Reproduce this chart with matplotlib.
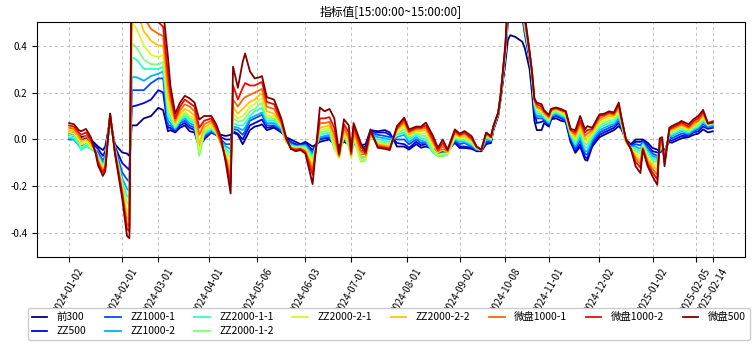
import numpy as np
import matplotlib.pyplot as plt

plt.rcParams['font.family'] = ['Noto Sans CJK SC', 'DejaVu Sans']
plt.rcParams['axes.unicode_minus'] = False

# trading-day index (0 = 2024-01-02)
days = [0, 2, 4, 5, 7, 9, 11, 12, 14, 15,
        17, 19, 22, 24, 25, 26, 28, 31, 34, 37,
        39, 41, 42, 44, 46, 48, 50, 52, 54, 56,
        59, 61, 63, 65, 67, 68, 70, 72, 73, 75,
        77, 79, 80, 82, 85, 88, 90, 92, 94, 96,
        98, 101, 104, 106, 108, 110, 112, 114, 116, 117,
        118, 121, 123, 125, 128, 131, 133, 136, 139, 141,
        144, 146, 148, 151, 153, 155, 157, 160, 162, 164,
        167, 169, 171, 173, 175, 176, 178, 179, 181, 182,
        183, 185, 186, 188, 189, 191, 192, 193, 194, 196,
        197, 199, 200, 202, 204, 206, 208, 210, 212, 214,
        215, 217, 220, 222, 224, 226, 228, 229, 231, 233,
        235, 237, 238, 240, 242, 244, 245, 246, 247, 249,
        250, 253, 254, 257, 259, 261, 263, 265, 267]

hs300 = [0.03, 0.025, 0.02, 0.01, 0.015, 0.0, -0.02, -0.03, -0.045, -0.03,
         0.08, -0.02, -0.055, -0.06, -0.07, 0.06, 0.06, 0.09, 0.1, 0.135,
         0.125, 0.035, 0.04, 0.03, 0.05, 0.06, 0.035, 0.03, -0.03, 0.0,
         0.03, 0.02, 0.02, 0.015, 0.02, 0.03, 0.02, -0.02, 0.0, 0.04,
         0.055, 0.06, 0.065, 0.04, 0.05, 0.03, 0.01, 0.0, -0.01, -0.02,
         -0.01, -0.03, -0.01, -0.005, 0.0, -0.02, -0.025, -0.01, -0.02, -0.03,
         -0.02, -0.025, -0.02, 0.04, 0.035, 0.04, 0.03, -0.03, -0.03, -0.043,
         -0.02, -0.035, -0.03, -0.04, -0.05, -0.045, -0.045, -0.014, -0.036, -0.036,
         -0.04, -0.05, -0.05, -0.02, -0.015, 0.04, 0.1, 0.17, 0.33, 0.423,
         0.444, 0.437, 0.43, 0.416, 0.39, 0.3, 0.2, 0.08, 0.04, 0.04,
         0.07, 0.055, 0.086, 0.09, 0.08, 0.075, -0.01, -0.057, -0.03, -0.086,
         -0.09, -0.03, 0.01, 0.02, 0.03, 0.04, 0.057, 0.045, 0.0, -0.02,
         0.0, 0.0, 0.0, -0.014, -0.036, -0.043, -0.05, -0.045, -0.045, -0.01,
         -0.014, 0.0, 0.005, 0.01, 0.02, 0.025, 0.043, 0.03, 0.035]

zz500 = [0.02, 0.015, 0.005, 0.0, 0.005, -0.01, -0.03, -0.04, -0.07, -0.05,
         0.09, -0.03, -0.1, -0.12, -0.13, 0.14, 0.145, 0.155, 0.17, 0.21,
         0.2, 0.05, 0.05, 0.035, 0.06, 0.07, 0.05, 0.04, -0.035, 0.005,
         0.03, 0.02, 0.01, 0.0, 0.0, 0.035, 0.025, 0.0, 0.02, 0.06,
         0.07, 0.08, 0.085, 0.05, 0.055, 0.035, 0.005, -0.01, -0.02, -0.025,
         -0.015, -0.045, 0.0, 0.005, 0.005, -0.02, -0.035, 0.0, -0.02, -0.04,
         -0.015, -0.035, -0.03, 0.035, 0.03, 0.03, 0.02, -0.015, -0.02, -0.035,
         -0.01, -0.025, -0.02, -0.045, -0.055, -0.05, -0.05, -0.01, -0.03, -0.03,
         -0.035, -0.045, -0.05, -0.015, -0.01, 0.045, 0.105, 0.175, 0.35, 0.5,
         0.56, 0.56, 0.56, 0.52, 0.45, 0.34, 0.24, 0.12, 0.07, 0.075,
         0.08, 0.06, 0.09, 0.1, 0.09, 0.08, 0.0, -0.05, -0.02, -0.075,
         -0.08, -0.02, 0.02, 0.03, 0.04, 0.05, 0.07, 0.055, -0.005, -0.025,
         -0.01, -0.01, -0.005, -0.025, -0.05, -0.055, -0.055, -0.05, -0.05, 0.0,
         -0.005, 0.01, 0.015, 0.015, 0.03, 0.035, 0.055, 0.045, 0.05]

zz1000_1 = [0.0, 0.0, -0.02, -0.03, -0.02, -0.03, -0.045, -0.055, -0.09, -0.07,
            0.095, -0.035, -0.14, -0.17, -0.18, 0.21, 0.21, 0.21, 0.24, 0.26,
            0.26, 0.06, 0.06, 0.04, 0.07, 0.08, 0.06, 0.05, -0.04, 0.01,
            0.035, 0.02, 0.0, -0.02, -0.02, 0.045, 0.04, 0.02, 0.035, 0.08,
            0.09, 0.1, 0.105, 0.06, 0.06, 0.04, 0.0, -0.015, -0.025, -0.025,
            -0.02, -0.055, 0.005, 0.01, 0.01, -0.025, -0.045, 0.005, -0.02, -0.05,
            -0.01, -0.05, -0.045, 0.03, 0.02, 0.015, 0.01, 0.0, 0.0, -0.02,
            0.0, -0.015, -0.015, -0.05, -0.06, -0.055, -0.055, -0.005, -0.02, -0.015,
            -0.03, -0.045, -0.045, -0.01, -0.005, 0.045, 0.105, 0.18, 0.36, 0.52,
            0.58, 0.58, 0.58, 0.54, 0.46, 0.35, 0.25, 0.13, 0.09, 0.09,
            0.085, 0.065, 0.095, 0.105, 0.095, 0.085, 0.01, -0.04, -0.005, -0.06,
            -0.065, -0.01, 0.03, 0.04, 0.05, 0.06, 0.08, 0.06, -0.005, -0.03,
            -0.02, -0.025, -0.01, -0.035, -0.06, -0.07, -0.05, -0.045, -0.055, 0.01,
            0.005, 0.02, 0.025, 0.02, 0.035, 0.045, 0.065, 0.05, 0.055]

zz1000_2 = [0.005, 0.0, -0.025, -0.04, -0.025, -0.035, -0.05, -0.065, -0.1, -0.08,
            0.1, -0.04, -0.165, -0.21, -0.22, 0.265, 0.265, 0.25, 0.27, 0.28,
            0.29, 0.08, 0.07, 0.045, 0.075, 0.09, 0.07, 0.06, -0.05, 0.02,
            0.04, 0.025, -0.005, -0.03, -0.04, 0.055, 0.05, 0.04, 0.05, 0.09,
            0.1, 0.11, 0.115, 0.07, 0.07, 0.045, -0.005, -0.02, -0.03, -0.03,
            -0.025, -0.065, 0.01, 0.015, 0.02, -0.03, -0.055, 0.01, -0.025, -0.06,
            -0.005, -0.065, -0.06, 0.025, 0.01, 0.005, 0.0, 0.01, 0.02, -0.01,
            0.01, -0.005, -0.01, -0.055, -0.065, -0.06, -0.06, 0.0, -0.01, -0.01,
            -0.025, -0.04, -0.045, 0.0, -0.005, 0.05, 0.11, 0.18, 0.37, 0.53,
            0.6, 0.6, 0.6, 0.56, 0.47, 0.355, 0.26, 0.14, 0.1, 0.1,
            0.09, 0.07, 0.1, 0.11, 0.1, 0.09, 0.015, -0.03, 0.01, -0.05,
            -0.05, 0.0, 0.04, 0.05, 0.06, 0.065, 0.09, 0.065, -0.01, -0.03,
            -0.03, -0.04, -0.015, -0.045, -0.07, -0.08, -0.045, -0.04, -0.06, 0.015,
            0.015, 0.03, 0.035, 0.025, 0.04, 0.05, 0.075, 0.055, 0.06]

zz2000_1_1 = [0.01, 0.005, -0.02, -0.045, -0.03, -0.04, -0.055, -0.07, -0.11, -0.09,
              0.1, -0.04, -0.18, -0.24, -0.25, 0.35, 0.34, 0.3, 0.3, 0.3,
              0.31, 0.1, 0.085, 0.05, 0.08, 0.1, 0.08, 0.07, -0.06, 0.025,
              0.045, 0.025, -0.01, -0.04, -0.06, 0.07, 0.06, 0.06, 0.07, 0.1,
              0.12, 0.13, 0.135, 0.08, 0.08, 0.05, -0.01, -0.025, -0.03, -0.03,
              -0.03, -0.075, 0.02, 0.025, 0.03, -0.035, -0.065, 0.015, -0.03, -0.07,
              0.0, -0.08, -0.075, 0.02, 0.0, -0.005, -0.01, 0.02, 0.03, 0.0,
              0.02, 0.005, 0.0, -0.057, -0.07, -0.065, -0.06, 0.005, -0.005, -0.005,
              -0.02, -0.04, -0.045, 0.01, 0.0, 0.05, 0.11, 0.182, 0.375, 0.54,
              0.61, 0.61, 0.61, 0.57, 0.48, 0.36, 0.265, 0.15, 0.11, 0.11,
              0.095, 0.075, 0.105, 0.115, 0.105, 0.095, 0.02, -0.02, 0.025, -0.035,
              -0.035, 0.01, 0.05, 0.06, 0.07, 0.075, 0.1, 0.07, -0.01, -0.035,
              -0.04, -0.05, -0.02, -0.055, -0.08, -0.09, -0.04, -0.035, -0.07, 0.02,
              0.02, 0.035, 0.04, 0.03, 0.045, 0.055, 0.08, 0.06, 0.065]

zz2000_1_2 = [0.02, 0.015, -0.01, -0.035, -0.02, -0.035, -0.05, -0.075, -0.115, -0.095,
              0.1, -0.045, -0.19, -0.27, -0.28, 0.41, 0.39, 0.34, 0.32, 0.32,
              0.33, 0.12, 0.1, 0.055, 0.09, 0.11, 0.09, 0.08, -0.07, 0.03,
              0.05, 0.03, -0.015, -0.05, -0.08, 0.09, 0.075, 0.08, 0.09, 0.12,
              0.13, 0.15, 0.155, 0.09, 0.09, 0.055, -0.01, -0.03, -0.035, -0.03,
              -0.035, -0.085, 0.03, 0.035, 0.04, -0.04, -0.075, 0.02, -0.03, -0.08,
              0.01, -0.095, -0.09, 0.015, -0.01, -0.015, -0.02, 0.025, 0.045, 0.01,
              0.03, 0.015, 0.015, -0.05, -0.072, -0.072, -0.065, 0.01, 0.0, 0.0,
              -0.015, -0.04, -0.045, 0.015, 0.0, 0.05, 0.11, 0.184, 0.38, 0.55,
              0.62, 0.62, 0.62, 0.58, 0.49, 0.36, 0.27, 0.155, 0.12, 0.115,
              0.1, 0.08, 0.11, 0.12, 0.11, 0.1, 0.025, -0.01, 0.04, -0.02,
              -0.02, 0.02, 0.06, 0.07, 0.08, 0.085, 0.11, 0.075, -0.015, -0.035,
              -0.05, -0.06, -0.025, -0.065, -0.09, -0.1, -0.035, -0.03, -0.075, 0.025,
              0.03, 0.045, 0.05, 0.035, 0.05, 0.06, 0.09, 0.062, 0.068]

zz2000_2_1 = [0.03, 0.025, 0.0, -0.02, -0.01, -0.03, -0.05, -0.08, -0.12, -0.1,
              0.1, -0.045, -0.2, -0.3, -0.31, 0.5, 0.47, 0.4, 0.36, 0.35,
              0.36, 0.15, 0.12, 0.06, 0.1, 0.12, 0.1, 0.09, -0.05, 0.04,
              0.06, 0.03, -0.02, -0.06, -0.1, 0.11, 0.09, 0.1, 0.11, 0.14,
              0.15, 0.17, 0.175, 0.1, 0.1, 0.06, -0.01, -0.03, -0.035, -0.035,
              -0.04, -0.1, 0.04, 0.045, 0.05, -0.03, -0.08, 0.03, -0.02, -0.075,
              0.02, -0.09, -0.085, 0.02, -0.015, -0.02, -0.025, 0.03, 0.055, 0.015,
              0.035, 0.025, 0.03, -0.04, -0.065, -0.06, -0.06, 0.015, 0.005, 0.01,
              -0.01, -0.035, -0.045, 0.02, 0.005, 0.052, 0.112, 0.185, 0.385, 0.56,
              0.63, 0.63, 0.63, 0.59, 0.5, 0.365, 0.275, 0.16, 0.13, 0.12,
              0.105, 0.085, 0.115, 0.125, 0.115, 0.105, 0.03, 0.0, 0.05, -0.01,
              -0.005, 0.025, 0.07, 0.08, 0.09, 0.095, 0.12, 0.08, -0.015, -0.035,
              -0.06, -0.075, -0.03, -0.075, -0.1, -0.115, -0.03, -0.025, -0.08, 0.03,
              0.035, 0.05, 0.055, 0.04, 0.055, 0.07, 0.095, 0.064, 0.07]

zz2000_2_2 = [0.04, 0.035, 0.01, -0.01, 0.0, -0.02, -0.05, -0.085, -0.13, -0.11,
              0.105, -0.05, -0.21, -0.33, -0.34, 0.58, 0.55, 0.46, 0.42, 0.4,
              0.4, 0.19, 0.14, 0.07, 0.11, 0.13, 0.12, 0.1, -0.02, 0.05,
              0.07, 0.035, -0.02, -0.07, -0.13, 0.14, 0.11, 0.13, 0.14, 0.16,
              0.17, 0.19, 0.195, 0.12, 0.11, 0.065, -0.005, -0.035, -0.04, -0.035,
              -0.045, -0.115, 0.05, 0.055, 0.06, -0.01, -0.075, 0.04, -0.01, -0.07,
              0.03, -0.07, -0.075, 0.025, -0.02, -0.025, -0.03, 0.04, 0.065, 0.02,
              0.04, 0.035, 0.04, -0.02, -0.055, -0.045, -0.055, 0.025, 0.01, 0.015,
              -0.005, -0.035, -0.045, 0.022, 0.005, 0.054, 0.112, 0.186, 0.39, 0.57,
              0.64, 0.64, 0.64, 0.6, 0.51, 0.365, 0.28, 0.165, 0.135, 0.125,
              0.11, 0.09, 0.12, 0.13, 0.12, 0.11, 0.035, 0.01, 0.06, 0.0,
              0.01, 0.03, 0.08, 0.09, 0.1, 0.1, 0.13, 0.085, -0.01, -0.04,
              -0.07, -0.09, -0.033, -0.085, -0.11, -0.13, -0.025, -0.02, -0.09, 0.035,
              0.04, 0.055, 0.06, 0.045, 0.06, 0.075, 0.1, 0.066, 0.072]

wp1000_1 = [0.05, 0.045, 0.02, 0.0, 0.015, -0.01, -0.05, -0.09, -0.135, -0.115,
            0.105, -0.05, -0.22, -0.36, -0.37, 0.66, 0.62, 0.52, 0.47, 0.45,
            0.44, 0.23, 0.17, 0.08, 0.125, 0.15, 0.14, 0.12, 0.02, 0.065,
            0.08, 0.04, -0.015, -0.08, -0.16, 0.17, 0.14, 0.17, 0.18, 0.19,
            0.2, 0.21, 0.215, 0.14, 0.13, 0.07, 0.0, -0.035, -0.04, -0.04,
            -0.05, -0.13, 0.07, 0.07, 0.075, 0.02, -0.07, 0.05, 0.01, -0.065,
            0.04, -0.05, -0.065, 0.03, -0.025, -0.03, -0.035, 0.045, 0.075, 0.03,
            0.045, 0.045, 0.05, -0.01, -0.05, -0.03, -0.05, 0.03, 0.015, 0.025,
            0.0, -0.03, -0.045, 0.025, 0.01, 0.055, 0.114, 0.187, 0.395, 0.58,
            0.65, 0.65, 0.65, 0.61, 0.51, 0.37, 0.285, 0.17, 0.14, 0.13,
            0.115, 0.095, 0.125, 0.13, 0.125, 0.115, 0.04, 0.02, 0.07, 0.015,
            0.025, 0.04, 0.09, 0.1, 0.11, 0.105, 0.14, 0.09, -0.005, -0.04,
            -0.08, -0.105, -0.036, -0.095, -0.125, -0.15, -0.015, -0.01, -0.095, 0.04,
            0.045, 0.06, 0.065, 0.05, 0.07, 0.08, 0.11, 0.068, 0.075]

wp1000_2 = [0.06, 0.055, 0.03, 0.02, 0.03, 0.0, -0.055, -0.1, -0.14, -0.12,
            0.11, -0.055, -0.23, -0.38, -0.39, 0.75, 0.7, 0.58, 0.52, 0.5,
            0.48, 0.28, 0.2, 0.09, 0.14, 0.17, 0.155, 0.14, 0.05, 0.08,
            0.09, 0.05, -0.005, -0.09, -0.19, 0.23, 0.17, 0.22, 0.24, 0.23,
            0.23, 0.24, 0.245, 0.16, 0.15, 0.08, 0.005, -0.04, -0.045, -0.04,
            -0.055, -0.15, 0.09, 0.09, 0.095, 0.05, -0.065, 0.065, 0.03, -0.06,
            0.055, -0.03, -0.06, 0.035, -0.03, -0.035, -0.04, 0.05, 0.085, 0.035,
            0.05, 0.05, 0.06, 0.0, -0.045, -0.015, -0.047, 0.037, 0.02, 0.03,
            0.005, -0.03, -0.045, 0.028, 0.01, 0.056, 0.114, 0.188, 0.4, 0.59,
            0.66, 0.66, 0.66, 0.62, 0.52, 0.37, 0.29, 0.17, 0.15, 0.14,
            0.12, 0.1, 0.13, 0.135, 0.125, 0.12, 0.042, 0.03, 0.08, 0.03,
            0.04, 0.045, 0.1, 0.105, 0.115, 0.11, 0.15, 0.095, 0.0, -0.04,
            -0.095, -0.12, -0.04, -0.105, -0.14, -0.17, -0.005, 0.0, -0.1, 0.045,
            0.05, 0.065, 0.072, 0.055, 0.078, 0.09, 0.118, 0.07, 0.078]

wp500 = [0.07, 0.065, 0.04, 0.035, 0.045, 0.01, -0.06, -0.11, -0.155, -0.135,
         0.11, -0.06, -0.25, -0.41, -0.42, 0.85, 0.8, 0.7, 0.65, 0.6,
         0.55, 0.35, 0.23, 0.11, 0.157, 0.186, 0.175, 0.157, 0.085, 0.1,
         0.1, 0.065, 0.01, -0.1, -0.23, 0.31, 0.22, 0.33, 0.366, 0.29,
         0.26, 0.265, 0.27, 0.18, 0.17, 0.09, 0.01, -0.04, -0.05, -0.045,
         -0.06, -0.19, 0.136, 0.12, 0.13, 0.09, -0.06, 0.086, 0.06, -0.05,
         0.07, -0.015, -0.05, 0.043, -0.035, -0.04, -0.045, 0.057, 0.093, 0.043,
         0.055, 0.055, 0.072, 0.014, -0.036, 0.0, -0.043, 0.043, 0.025, 0.036,
         0.014, -0.03, -0.043, 0.03, 0.014, 0.057, 0.115, 0.19, 0.41, 0.6,
         0.68, 0.68, 0.68, 0.64, 0.53, 0.375, 0.29, 0.175, 0.157, 0.15,
         0.125, 0.105, 0.13, 0.136, 0.13, 0.12, 0.045, 0.04, 0.1, 0.043,
         0.057, 0.05, 0.107, 0.11, 0.12, 0.115, 0.157, 0.1, 0.0, -0.04,
         -0.114, -0.143, -0.043, -0.114, -0.157, -0.193, 0.005, 0.01, -0.114, 0.05,
         0.057, 0.072, 0.079, 0.065, 0.086, 0.1, 0.126, 0.068, 0.072]

names = ['前300', 'ZZ500', 'ZZ1000-1', 'ZZ1000-2', 'ZZ2000-1-1', 'ZZ2000-1-2',
         'ZZ2000-2-1', 'ZZ2000-2-2', '微盘1000-1', '微盘1000-2', '微盘500']

tick_pos = [0, 22, 37, 58, 78, 98, 117, 140, 162, 181, 199, 220, 242, 260, 267]
tick_labels = ['2024-01-02', '2024-02-01', '2024-03-01', '2024-04-01', '2024-05-06',
               '2024-06-03', '2024-07-01', '2024-08-01', '2024-09-02', '2024-10-08',
               '2024-11-01', '2024-12-02', '2025-01-02', '2025-02-05', '2025-02-14']

series = [hs300, zz500, zz1000_1, zz1000_2, zz2000_1_1, zz2000_1_2,
          zz2000_2_1, zz2000_2_2, wp1000_1, wp1000_2, wp500]
colors = plt.cm.jet(np.linspace(0, 1, len(series)))

fig, ax = plt.subplots(figsize=(7.54, 3.44), dpi=100)
fig.subplots_adjust(left=0.049, right=0.988, top=0.936, bottom=0.253)

for vals, name, c in zip(series, names, colors):
    ax.plot(days, vals, color=c, lw=1.3, label=name)

ax.set_ylim(-0.5, 0.5)
ax.set_yticks([-0.4, -0.2, 0.0, 0.2, 0.4])
ax.set_xticks(tick_pos)
ax.set_xticklabels(tick_labels, rotation=60, fontsize=7)
ax.tick_params(axis='y', labelsize=7)
ax.grid(True, linestyle=(0, (3, 3)), color='#bdbdbd', linewidth=0.7)
ax.set_title('指标值[15:00:00~15:00:00]', fontsize=8.5, pad=4)

# legend sits over the lower part of the date labels
ax.legend(loc='upper center', bbox_to_anchor=(0.497, -0.217), ncol=8,
          fontsize=7.5, borderaxespad=0, handlelength=1.5, handletextpad=0.9,
          columnspacing=1.8, labelspacing=0.4, framealpha=1)

fig.savefig('out.png', dpi=100)
